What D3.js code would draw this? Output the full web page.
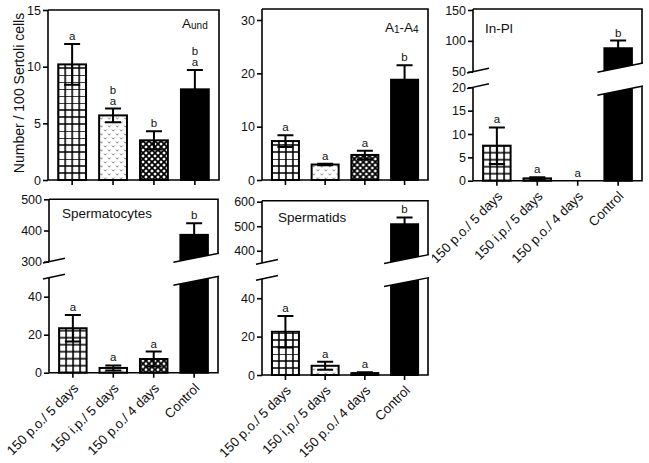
<!DOCTYPE html>
<html>
<head>
<meta charset="utf-8">
<script src="https://cdn.jsdelivr.net/npm/d3@7"></script>
<style>
  body { margin: 0; background: #fff; }
  text { font-family: "Liberation Sans", Arial, sans-serif; fill: #111; }
</style>
</head>
<body>
<svg id="chart" width="649" height="463"></svg>
<script>
// groups on the x axis
const groups = ["150 p.o./ 5 days", "150 i.p./ 5 days", "150 p.o./ 4 days", "Control"];

// Aund
const aundMean = [10.2, 5.7, 3.5, 8.0];
const aundErr = [1.8, 0.6, 0.8, 1.7];
const aundLetters = [["a"], ["a", "b"], ["b"], ["a", "b"]];
const aundTicks = [0, 5, 10, 15];

// A1-A4
const a14Mean = [7.3, 2.9, 4.7, 18.8];
const a14Err = [1.1, 0.15, 0.8, 2.7];
const a14Letters = [["a"], ["a"], ["a"], ["b"]];
const a14Ticks = [0, 10, 20, 30];

// In-Pl
const inplMean = [7.5, 0.5, 0, 88];
const inplErr = [3.9, 0.25, 0, 12.5];
const inplLetters = [["a"], ["a"], ["a"], ["b"]];
const inplTicks = [0, 5, 10, 15, 20, 50, 100, 150];

// Spermatocytes
const spcMean = [23.4, 2.5, 7.2, 386];
const spcErr = [7, 1.3, 3.9, 37];
const spcLetters = [["a"], ["a"], ["a"], ["b"]];
const spcTicks = [0, 20, 40, 300, 400, 500];

// Spermatids
const sptMean = [22.5, 4.8, 1.0, 508];
const sptErr = [8.2, 2.1, 0.4, 28];
const sptLetters = [["a"], ["a"], ["a"], ["b"]];
const sptTicks = [0, 20, 40, 400, 500, 600];

const panels = [
  { title: [["A", 0], ["und", 1]], tx: 182, ty: 28, mean: aundMean, err: aundErr, letters: aundLetters, ticks: aundTicks,
    x0: 48, x1: 219, y0: 180, top: 10, domain: [0, 15], range: [180, 10], xlab: false },
  { title: [["A", 0], ["1", 1], ["-A", 0], ["4", 1]], tx: 385, ty: 32, mean: a14Mean, err: a14Err, letters: a14Letters, ticks: a14Ticks,
    x0: 262, x1: 428, y0: 180, top: 9, domain: [0, 30], range: [180, 20], xlab: false },
  { title: [["In-Pl", 0]], tx: 485, ty: 33, mean: inplMean, err: inplErr, letters: inplLetters, ticks: inplTicks,
    x0: 473, x1: 642, y0: 180.7, top: 9, domain: [0, 20, 50, 150], range: [180.7, 87.3, 71.7, 10], xlab: true },
  { title: [["Spermatocytes", 0]], tx: 62, ty: 218, mean: spcMean, err: spcErr, letters: spcLetters, ticks: spcTicks,
    x0: 49, x1: 218, y0: 372.7, top: 199.3, domain: [0, 50, 300, 500], range: [372.7, 277.7, 261.7, 199.3], xlab: true },
  { title: [["Spermatids", 0]], tx: 278, ty: 222, mean: sptMean, err: sptErr, letters: sptLetters, ticks: sptTicks,
    x0: 262, x1: 428, y0: 375, top: 200.7, domain: [0, 50, 350, 600], range: [375, 279, 263, 201.7], xlab: true }
];

const svg = d3.select("#chart");
const defs = svg.append("defs");

// fill patterns: grid, light "v" dots, diamond crosshatch
function makePattern(id, kind, px, py) {
  if (kind === 0) {
    const p = defs.append("pattern").attr("id", id).attr("patternUnits", "userSpaceOnUse")
      .attr("x", px - 1).attr("y", py - 1).attr("width", 7).attr("height", 7);
    p.append("rect").attr("width", 7).attr("height", 7).attr("fill", "#fff");
    p.append("path").attr("d", "M0,1H7M1,0V7").attr("stroke", "#000").attr("stroke-width", 1.6);
  } else if (kind === 1) {
    const p = defs.append("pattern").attr("id", id).attr("patternUnits", "userSpaceOnUse")
      .attr("x", px).attr("y", py).attr("width", 8).attr("height", 8);
    p.append("rect").attr("width", 8).attr("height", 8).attr("fill", "#fff");
    p.append("path").attr("d", "M1,1.5L2.2,3.2L3.4,1.5M5,5.5L6.2,7.2L7.4,5.5")
      .attr("stroke", "#777").attr("stroke-width", 0.9).attr("fill", "none");
  } else {
    const p = defs.append("pattern").attr("id", id).attr("patternUnits", "userSpaceOnUse")
      .attr("x", px).attr("y", py).attr("width", 6).attr("height", 6);
    p.append("rect").attr("width", 6).attr("height", 6).attr("fill", "#fff");
    p.append("path").attr("d", "M0,0L6,6M6,0L0,6").attr("stroke", "#000").attr("stroke-width", 1.8);
  }
}

panels.forEach((p, pi) => {
  const g = svg.append("g");
  const x = d3.scaleBand().domain(groups).range([p.x0, p.x1]).paddingInner(0.32).paddingOuter(0.25);
  const y = d3.scaleLinear().domain(p.domain).range(p.range);
  const broken = p.domain.length === 4;
  const bw = x.bandwidth();

  // bars
  groups.forEach((grp, i) => {
    const bx = x(grp);
    let fill = "#000";
    if (i < 3) {
      const id = `pat-${pi}-${i}`;
      makePattern(id, i, bx, p.y0);
      fill = `url(#${id})`;
    }
    const v = p.mean[i];
    if (v > 0) {
      g.append("rect").attr("x", bx).attr("y", y(v)).attr("width", bw).attr("height", y(0) - y(v))
        .attr("fill", fill).attr("stroke", "#000").attr("stroke-width", 2);
    }
    // error bar
    const e = p.err[i];
    if (e > 0) {
      const cx = bx + bw / 2;
      const hi = y(v + e), lo = y(Math.max(0, v - e));
      g.append("path")
        .attr("d", `M${cx},${lo}V${hi}M${cx - 8},${hi}H${cx + 8}M${cx - 8},${lo}H${cx + 8}`)
        .attr("stroke", "#000").attr("stroke-width", 2).attr("fill", "none");
    }
    // significance letters, stacked upwards
    const base = (e > 0 ? y(v + e) : y(v)) - 4;
    p.letters[i].forEach((L, k) => {
      g.append("text").attr("x", bx + bw / 2).attr("y", base - k * 11)
        .attr("text-anchor", "middle").attr("font-size", 11.5).text(L);
    });
  });

  // frame
  const frame = g.append("g").attr("stroke", "#000").attr("stroke-width", 1.6).attr("fill", "none");
  frame.append("path").attr("d", `M${p.x0},${p.top}H${p.x1}V${p.y0}H${p.x0}`);
  if (broken) {
    frame.append("path").attr("d", `M${p.x0},${p.y0}V${p.range[1]}M${p.x0},${p.range[2]}V${p.top}`);
  } else {
    frame.append("path").attr("d", `M${p.x0},${p.y0}V${p.top}`);
  }

  // y axis ticks
  const ya = g.append("g").attr("transform", `translate(${p.x0},0)`)
    .call(d3.axisLeft(y).tickValues(p.ticks).tickSize(5).tickPadding(2).tickFormat(d3.format("d")));
  ya.select(".domain").remove();
  ya.selectAll("line").attr("stroke", "#000").attr("stroke-width", 1.6);
  ya.selectAll("text").attr("font-size", 12.5).attr("fill", "#111")
    .style("font-family", '"Liberation Sans", Arial, sans-serif');

  // x axis ticks
  const xa = g.append("g").attr("transform", `translate(0,${p.y0})`)
    .call(d3.axisBottom(x).tickSize(5).tickSizeOuter(0));
  xa.select(".domain").remove();
  xa.selectAll("line").attr("stroke", "#000").attr("stroke-width", 1.6);
  if (p.xlab) {
    xa.selectAll("text").attr("font-size", 13.3).attr("fill", "#111")
      .style("font-family", '"Liberation Sans", Arial, sans-serif')
      .attr("text-anchor", "end").attr("x", 0).attr("y", 0).attr("dy", "0.35em")
      .attr("transform", "translate(3,13) rotate(-45)");
  } else {
    xa.selectAll("text").remove();
  }

  // axis break: white slanted band through the control bar and slashes on the axis
  if (broken) {
    const cx = x(groups[3]) + bw / 2;
    const yMid = (p.range[1] + p.range[2]) / 2;
    const s = -0.2, h = 11.5;
    const xl = x(groups[3]) - 7, xr = p.x1 + 4;
    const up = xx => yMid - h + s * (xx - cx);
    const dn = xx => yMid + h + s * (xx - cx);
    g.append("path").attr("d", `M${xl},${up(xl)}L${xr},${up(xr)}L${xr},${dn(xr)}L${xl},${dn(xl)}Z`)
      .attr("fill", "#fff");
    g.append("path").attr("d", `M${xl},${up(xl)}L${xr - 3},${up(xr - 3)}M${xl},${dn(xl)}L${xr - 3},${dn(xr - 3)}`)
      .attr("stroke", "#000").attr("stroke-width", 1.5).attr("fill", "none");
    [p.range[1], p.range[2]].forEach(yb => {
      g.append("path").attr("d", `M${p.x0 - 6},${yb + 6 * 0.22}L${p.x0 + 16},${yb - 16 * 0.22}`)
        .attr("stroke", "#000").attr("stroke-width", 1.5);
    });
  }

  // panel title (with subscripts)
  const t = g.append("text").attr("x", p.tx).attr("y", p.ty).attr("font-size", 13.5);
  p.title.forEach(([str, sub], k) => {
    t.append("tspan").attr("font-size", sub ? 10 : 13.5).attr("dy", sub ? 1 : (k > 0 ? -1 : 0)).text(str);
  });
});

// shared y label
svg.append("text").attr("transform", "translate(19,93) rotate(-90)").attr("dy", "0.35em")
  .attr("text-anchor", "middle").attr("font-size", 14).text("Number / 100 Sertoli cells");
</script>
</body>
</html>
